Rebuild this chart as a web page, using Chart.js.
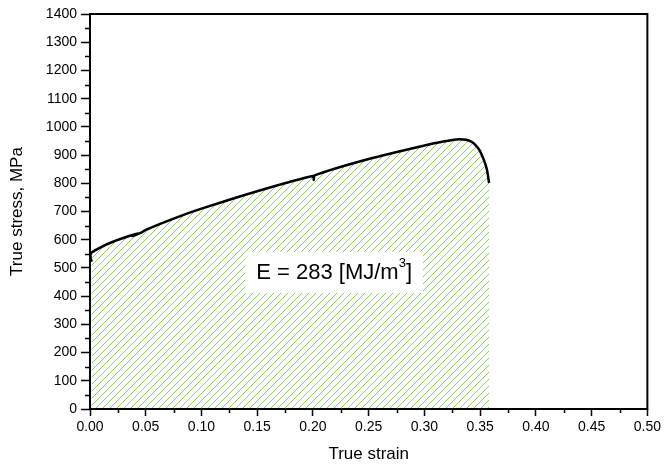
<!DOCTYPE html>
<html>
<head>
<meta charset="utf-8">
<script src="https://cdn.jsdelivr.net/npm/chart.js@4/dist/chart.umd.min.js"></script>
<style>
  html, body { margin: 0; padding: 0; background: #fff; }
  #wrap { width: 664px; height: 465px; }
</style>
</head>
<body>
<div id="wrap"><canvas id="stress-canvas" width="664" height="465"></canvas></div>
<script>
// Curva tensión-deformación verdadera
const strain = [0.0015, 0.0005, 0.001, 0.01, 0.02, 0.035, 0.043, 0.038, 0.046, 0.05, 0.075, 0.1, 0.15, 0.2, 0.2008, 0.2015, 0.25, 0.3, 0.316, 0.331, 0.342, 0.349, 0.353, 0.356, 0.358];
const stress = [522, 538, 553, 574, 592, 613, 622, 613, 625, 635, 675, 710, 772, 826, 812, 828, 886, 934, 947, 956, 948, 920, 886, 850, 801];

const yTicks = { min: 0, max: 1400, step: 100, minorStep: 50 };
const xTicks = { min: 0, max: 0.5, step: 0.05, minorStep: 0.025 };

const energyLabel = 'E = 283 [MJ/m';
const energySup = '3';
const energyAt = { x: 0.219, y: 486 };

const FONT = "'Liberation Sans', Arial, sans-serif";

// Patrón rayado verde para el área bajo la curva
function makeHatch() {
    const c = document.createElement('canvas');
    c.width = 7;
    c.height = 7;
    const g = c.getContext('2d');
    g.strokeStyle = '#86cc5e';
    g.lineWidth = 1;
    g.beginPath();
    g.moveTo(-1, 8); g.lineTo(8, -1);
    g.moveTo(-8, 8); g.lineTo(1, -1);
    g.moveTo(6, 8); g.lineTo(15, -1);
    g.stroke();
    return g.createPattern(c, 'repeat');
}

// Marco, ticks menores y etiqueta de energía
const extras = {
    id: 'extras',
    afterDatasetsDraw(chart) {
        const { ctx, scales: { x, y } } = chart;
        ctx.save();
        ctx.font = '22px ' + FONT;
        const w1 = ctx.measureText(energyLabel).width;
        ctx.font = '13px ' + FONT;
        const w2 = ctx.measureText(energySup).width;
        ctx.font = '22px ' + FONT;
        const w3 = ctx.measureText(']').width;
        const total = w1 + w2 + w3;
        const cx = x.getPixelForValue(energyAt.x);
        const cy = y.getPixelForValue(energyAt.y);
        ctx.fillStyle = '#fff';
        ctx.fillRect(cx - total / 2 - 11, cy - 20, total + 22, 41);
        ctx.fillStyle = '#000';
        ctx.textBaseline = 'middle';
        ctx.textAlign = 'left';
        let tx = cx - total / 2;
        ctx.fillText(energyLabel, tx, cy + 1);
        tx += w1;
        ctx.font = '13px ' + FONT;
        ctx.fillText(energySup, tx, cy - 8);
        tx += w2;
        ctx.font = '22px ' + FONT;
        ctx.fillText(']', tx, cy + 1);
        ctx.restore();
    },
    afterDraw(chart) {
        const { ctx, chartArea: a, scales: { x, y } } = chart;
        ctx.save();
        ctx.strokeStyle = '#000';
        ctx.lineWidth = 1.5;
        ctx.beginPath();
        for (let v = yTicks.minorStep; v < yTicks.max; v += yTicks.step) {
            const py = Math.round(y.getPixelForValue(v)) + 0.5;
            ctx.moveTo(a.left - 5, py);
            ctx.lineTo(a.left, py);
        }
        for (let v = xTicks.minorStep; v < xTicks.max; v += xTicks.step) {
            const px = Math.round(x.getPixelForValue(v)) + 0.5;
            ctx.moveTo(px, a.bottom);
            ctx.lineTo(px, a.bottom + 4);
        }
        ctx.stroke();
        ctx.lineWidth = 2;
        ctx.strokeRect(a.left, a.top, a.right - a.left, a.bottom - a.top);
        ctx.restore();
    }
};

const ctx = document.getElementById('stress-canvas').getContext('2d');
const chart = new Chart(ctx, {
    type: 'line',
    data: {
        datasets: [{
            label: 'True stress',
            data: strain.map((s, i) => ({ x: s, y: stress[i] })),
            borderColor: '#000',
            borderWidth: 2.5,
            backgroundColor: makeHatch(),
            fill: 'origin',
            pointRadius: 0,
            tension: 0.25
        }]
    },
    options: {
        responsive: false,
        animation: false,
        events: [],
        layout: { padding: { top: 14, right: 15, left: 0, bottom: 0 } },
        plugins: { legend: { display: false }, tooltip: { enabled: false } },
        scales: {
            x: {
                type: 'linear',
                min: xTicks.min,
                max: xTicks.max,
                afterFit: (s) => { s.height = 56; },
                border: { display: false },
                grid: { drawOnChartArea: false, tickLength: 7, tickColor: '#000', tickWidth: 1.5 },
                ticks: {
                    stepSize: xTicks.step,
                    padding: 3,
                    color: '#000',
                    font: { family: FONT, size: 14 },
                    maxRotation: 0,
                    autoSkip: false,
                    callback: (v) => Number(v).toFixed(2)
                },
                title: {
                    display: true,
                    text: 'True strain',
                    color: '#000',
                    font: { family: FONT, size: 17 },
                    padding: { top: 0, bottom: 0 }
                }
            },
            y: {
                min: yTicks.min,
                max: yTicks.max,
                afterFit: (s) => { s.width = 90; },
                border: { display: false },
                grid: { drawOnChartArea: false, tickLength: 9, tickColor: '#000', tickWidth: 1.5 },
                ticks: {
                    stepSize: yTicks.step,
                    padding: 4,
                    color: '#000',
                    font: { family: FONT, size: 14 },
                    autoSkip: false,
                    callback: (v) => String(v)
                },
                title: {
                    display: true,
                    text: 'True stress, MPa',
                    color: '#000',
                    font: { family: FONT, size: 17 },
                    padding: { top: 7, bottom: 0 }
                }
            }
        }
    },
    plugins: [extras]
});
</script>
</body>
</html>
